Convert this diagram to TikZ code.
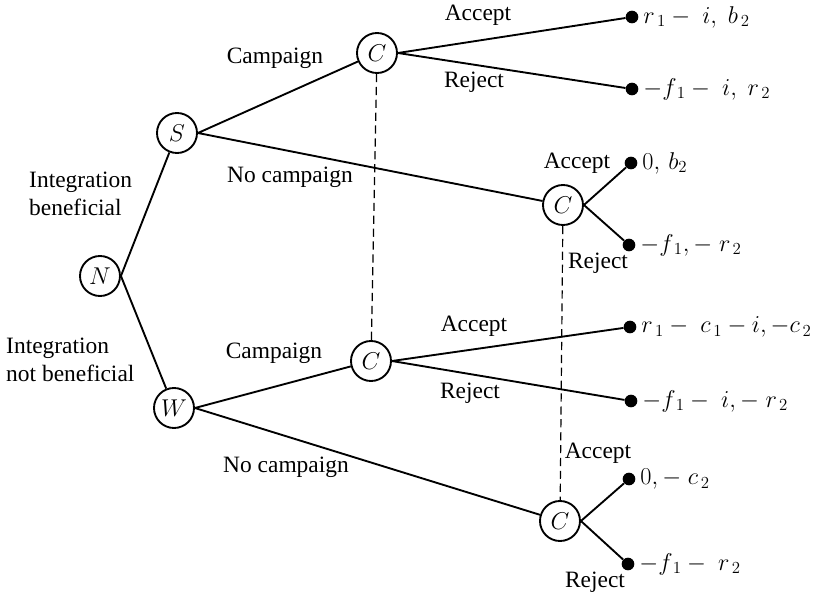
\documentclass[tikz,border=0pt]{standalone}
\usepackage{fontspec}
\setmainfont{Liberation Serif}
\usetikzlibrary{positioning}
\tikzset{
    player/.style={circle, draw, line width=1.6pt, minimum size=1.2cm, inner sep=0pt, font=\fontsize{20}{24}\selectfont},
    leaf/.style={circle, fill=black, minimum size=0.38cm, inner sep=0pt},
    move/.style={font=\fontsize{20}{24}\selectfont, inner sep=0pt},
    pay/.style={font=\fontsize{21}{25}\selectfont, anchor=west, inner sep=4pt},
    branch/.style={line width=1.6pt},
    info/.style={line width=1pt, dash pattern=on 7pt off 4pt}
}

\begin{document}
\begin{tikzpicture}[x=0.03cm, y=-0.03cm]
                        \useasboundingbox (0, 0) rectangle (830, 597);

                        \node[player] (n) at (100, 276) {$N$};
                        \node[player] (s) at (177, 133) {$S$};
                        \node[player] (w) at (174, 408) {$W$};
                        \node[player] (c1) at (377, 53) {$C$};
                        \node[player] (c2) at (563, 205) {$C$};
                        \node[player] (c3) at (371, 361) {$C$};
                        \node[player] (c4) at (560, 521) {$C$};

                        \node[leaf] (a1) at (632, 17) {};
                        \node[leaf] (a2) at (632, 89) {};
                        \node[leaf] (a3) at (631, 163) {};
                        \node[leaf] (a4) at (629, 245) {};
                        \node[leaf] (a5) at (630, 327) {};
                        \node[leaf] (a6) at (631, 401) {};
                        \node[leaf] (a7) at (629, 479) {};
                        \node[leaf] (a8) at (628, 564) {};

                        \draw[branch]
                        (n.east) -- (s) (n.east) -- (w)
                        (s.east) -- (c1) (s.east) -- (c2)
                        (w.east) -- (c3) (w.east) -- (c4)
                        (c1.east) -- (a1) (c1.east) -- (a2)
                        (c2.east) -- (a3) (c2.east) -- (a4)
                        (c3.east) -- (a5) (c3.east) -- (a6)
                        (c4.east) -- (a7) (c4.east) -- (a8);
                        \draw[info] (c1) -- (c3);
                        \draw[info] (c2) -- (c4);

                        \node[move, anchor=west, align=left] (ib) at (29, 194) {Integration\\beneficial};
                        \node[move, anchor=west, align=left] (inb) at (6, 360) {Integration\\not beneficial};
                        \node[move] (sc) at (275, 58) {Campaign};
                        \node[move] (snc) at (290, 177) {No campaign};
                        \node[move] (wc) at (274, 353) {Campaign};
                        \node[move] (wnc) at (286, 467) {No campaign};
                        \node[move] (acc1) at (478, 15) {Accept};
                        \node[move] (rej1) at (474, 82) {Reject};
                        \node[move] (acc2) at (577, 163) {Accept};
                        \node[move] (rej2) at (598, 263) {Reject};
                        \node[move] (acc3) at (474, 326) {Accept};
                        \node[move] (rej3) at (470, 393) {Reject};
                        \node[move] (acc4) at (598, 453) {Accept};
                        \node[move] (rej4) at (595, 582) {Reject};

                        \node[pay] (p1) at (a1.east) {$r_{\,1}-\;i,\;b_{\,2}$};
                        \node[pay] (p2) at (a2.east) {$-f_{\,1}-\;i,\;r_{\,2}$};
                        \node[pay] (p3) at (a3.east) {$0,\,b_2$};
                        \node[pay] (p4) at (a4.east) {$-f_{\,1},-\;r_{\,2}$};
                        \node[pay] (p5) at (a5.east) {$r_{\,1}-\;c_{\,1}-i,-c_{\,2}$};
                        \node[pay] (p6) at (a6.east) {$-f_{\,1}-\;i,-\;r_{\,2}$};
                        \node[pay] (p7) at (a7.east) {$0,-\;c_{\,2}$};
                        \node[pay] (p8) at (a8.east) {$-f_{\,1}-\;r_{\,2}$};
                    \end{tikzpicture}
\end{document}
